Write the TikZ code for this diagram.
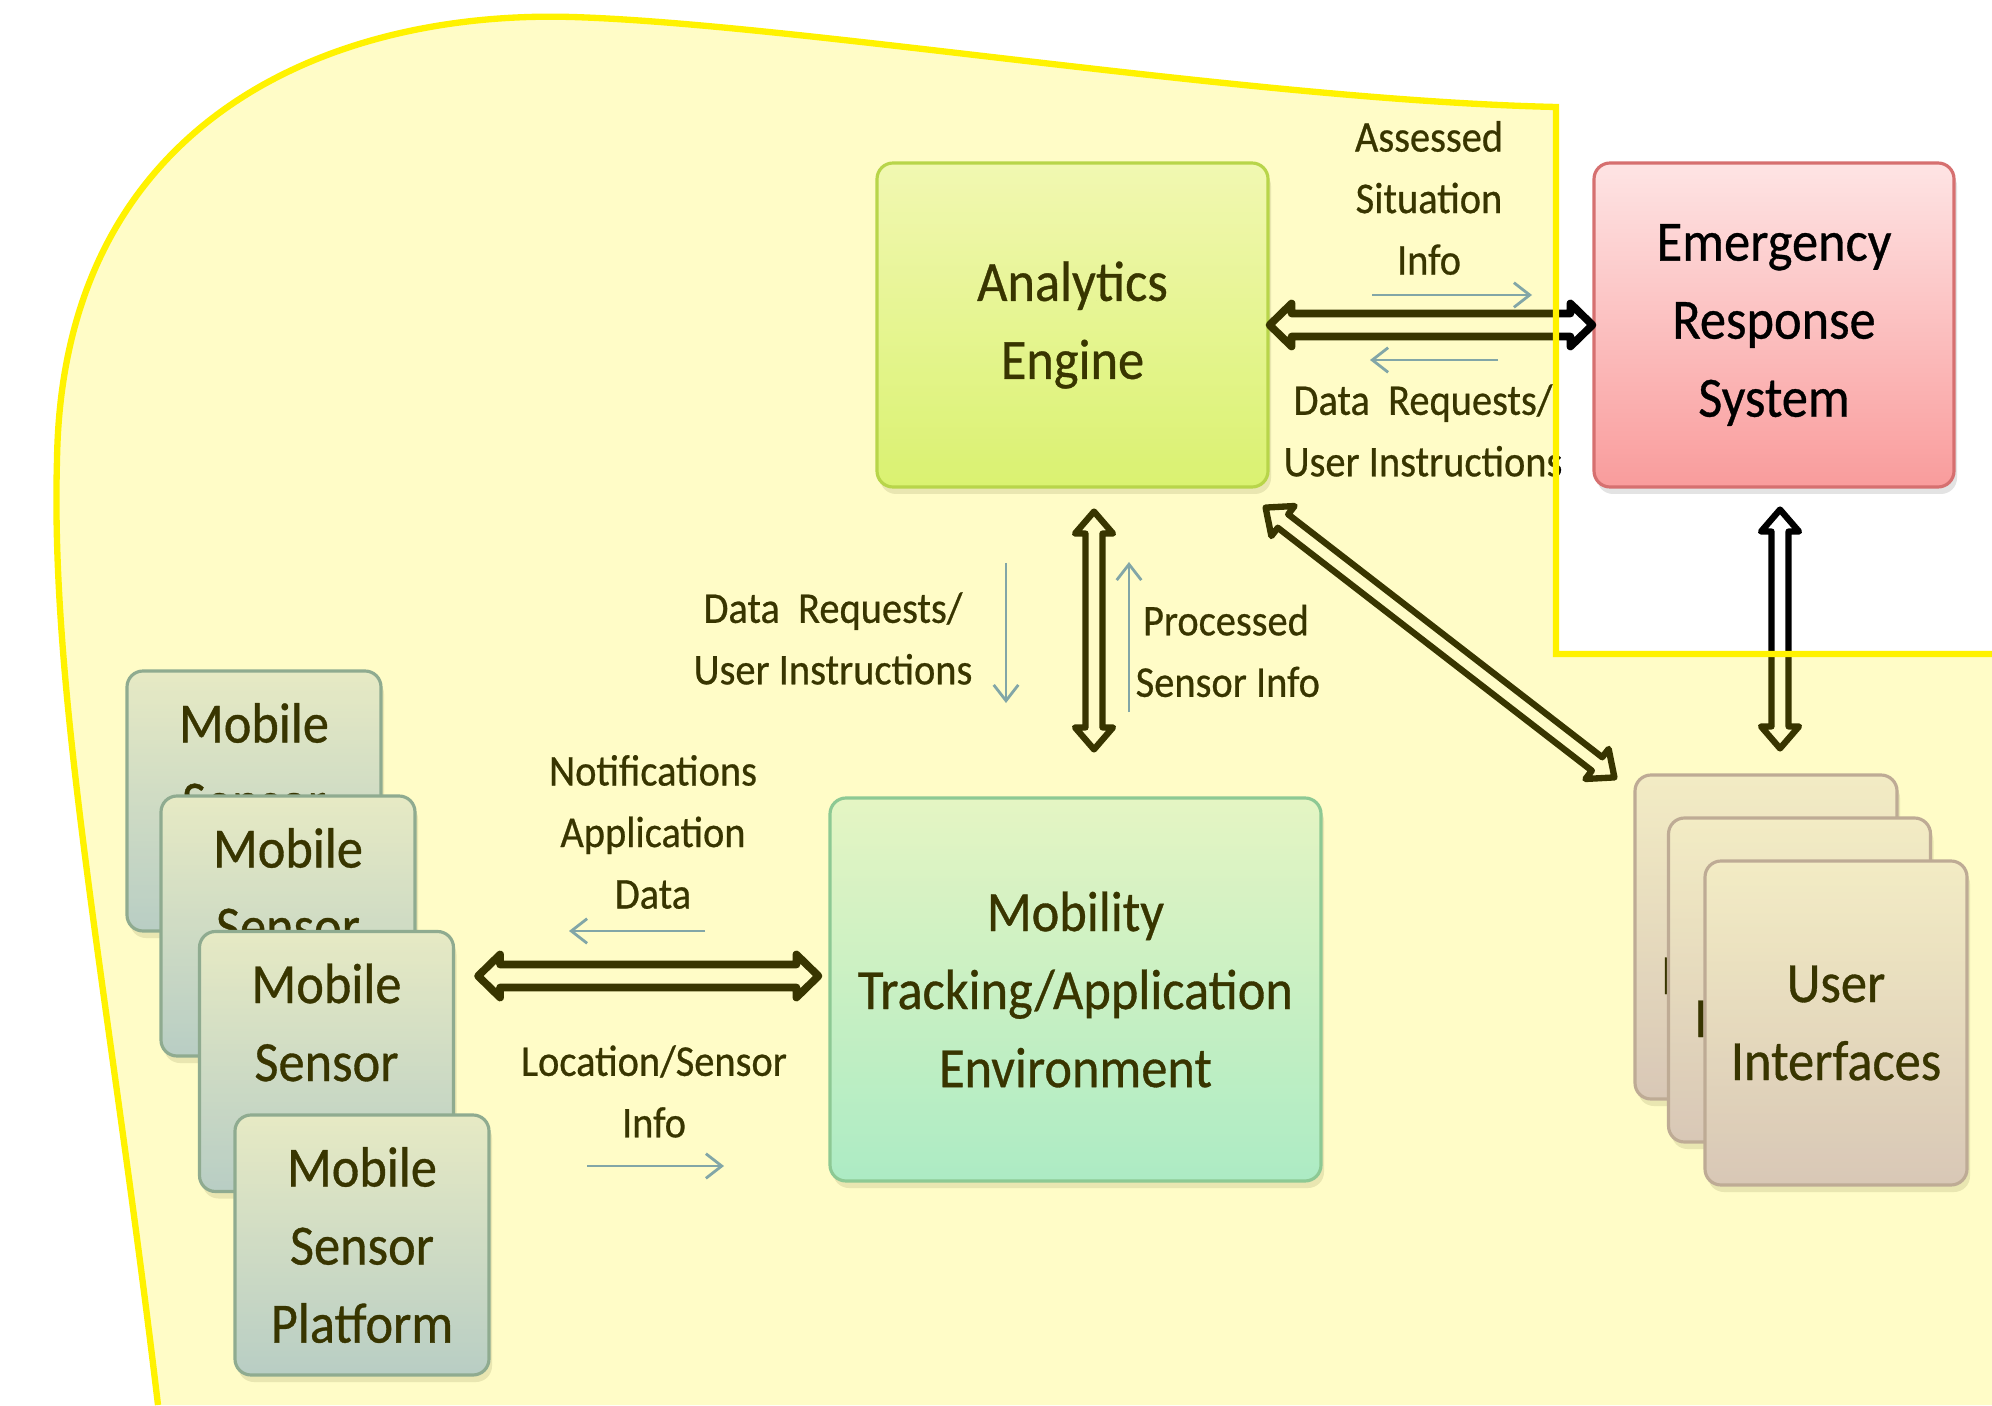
\documentclass[tikz,border=0pt]{standalone}
\usepackage{fontspec}
\setmainfont{Carlito}[FakeStretch=0.92,FakeBold=0.6]
\usetikzlibrary{arrows.meta,positioning,calc,shadows}

\definecolor{aetop}{RGB}{238,250,228}
\definecolor{aebot}{RGB}{208,242,145}
\definecolor{aeline}{RGB}{165,205,95}
\definecolor{erstop}{RGB}{254,228,228}
\definecolor{ersbot}{RGB}{249,156,156}
\definecolor{ersline}{RGB}{214,112,112}
\definecolor{mtetop}{RGB}{222,246,250}
\definecolor{mtebot}{RGB}{150,234,252}
\definecolor{mteline}{RGB}{110,190,190}
\definecolor{mstop}{RGB}{224,232,252}
\definecolor{msbot}{RGB}{165,196,252}
\definecolor{msline}{RGB}{112,152,185}
\definecolor{uitop}{RGB}{240,235,252}
\definecolor{uibot}{RGB}{206,188,234}
\definecolor{uiline}{RGB}{172,152,192}
\definecolor{flowblue}{RGB}{95,145,215}

\newcommand\boxfont{\fontsize{16.2}{22.2}\selectfont}
\newcommand\lblfont{\fontsize{12.5}{17.5}\selectfont}
% outline of the shaded zone
\newcommand\zoneedge{(1.58,0) .. controls (1.10,4.05) and (0.50,7.05) .. (0.57,9.45)
  .. controls (0.62,12.85) and (3.30,13.95) .. (5.72,13.88)
  .. controls (8.00,13.81) and (12.50,13.05) .. (15.56,12.98)
  -- (15.56,7.51) -- (19.92,7.51)}

\tikzset{bar shaft/.store in=\barshaft,bar head/.store in=\barhead,
  bar shaft=0.115cm,bar head=0.215cm}

\begin{document}
\begin{tikzpicture}[>=Latex,
 box/.style={rounded corners=1.6mm,line width=0.9pt,align=center,font=\boxfont,inner sep=1mm,
   drop shadow={shadow xshift=0.3mm,shadow yshift=-0.7mm,opacity=0.22}},
 aebox/.style={box,draw=aeline,top color=aetop,bottom color=aebot},
 ersbox/.style={box,draw=ersline,top color=erstop,bottom color=ersbot},
 mtebox/.style={box,draw=mteline,top color=mtetop,bottom color=mtebot},
 msbox/.style={box,draw=msline,top color=mstop,bottom color=msbot,minimum width=2.54cm,minimum height=2.6cm},
 uibox/.style={box,draw=uiline,top color=uitop,bottom color=uibot,minimum width=2.62cm,minimum height=3.24cm},
 lbl/.style={align=center,font=\lblfont,inner sep=0pt},
 blockarr/.style={draw=black,line width=2.2pt,line join=round,
   to path={let \p1=(\tikztostart),\p2=(\tikztotarget),\n1={atan2(\y2-\y1,\x2-\x1)} in
     (\p1) -- ($(\p1)+(\n1:0.22cm)+(\n1+90:\barhead)$)
     -- ($(\p1)+(\n1:0.22cm)+(\n1+90:\barshaft)$)
     -- ($(\p2)+(\n1+180:0.22cm)+(\n1+90:\barshaft)$)
     -- ($(\p2)+(\n1+180:0.22cm)+(\n1+90:\barhead)$)
     -- (\p2)
     -- ($(\p2)+(\n1+180:0.22cm)+(\n1-90:\barhead)$)
     -- ($(\p2)+(\n1+180:0.22cm)+(\n1-90:\barshaft)$)
     -- ($(\p1)+(\n1:0.22cm)+(\n1-90:\barshaft)$)
     -- ($(\p1)+(\n1:0.22cm)+(\n1-90:\barhead)$)
     -- cycle}},
 slim/.style={bar shaft=0.085cm,bar head=0.19cm,line width=1.8pt},
 flow/.style={draw=flowblue,line width=0.8pt,-{Straight Barb[length=4.5pt,width=7pt]}}]
\fill[white] (0,0) rectangle (19.92,14.05);
\useasboundingbox (0,0) rectangle (19.92,14.05);

% main blocks
\node[aebox,minimum width=3.91cm,minimum height=3.24cm] (ae) at (10.725,10.80) {Analytics\\Engine};
\node[ersbox,minimum width=3.60cm,minimum height=3.24cm] (ers) at (17.74,10.80) {Emergency\\Response\\System};
\node[mtebox,minimum width=4.91cm,minimum height=3.83cm] (mte) at (10.755,4.155) {Mobility\\Tracking/Application\\Environment};

% sensor stack
\node[msbox] (ms1) at (2.54,6.04) {Mobile\\Sensor\\Platform};
\node[msbox] (ms2) at (2.88,4.79) {Mobile\\Sensor\\Platform};
\node[msbox] (ms3) at (3.265,3.435) {Mobile\\Sensor\\Platform};
\node[msbox] (ms4) at (3.62,1.60) {Mobile\\Sensor\\Platform};

% interface stack
\node[uibox] (ui1) at (17.66,4.68) {User\\Interfaces};
\node[uibox] (ui2) at (17.995,4.25) {User\\Interfaces};
\node[uibox] (ui3) at (18.36,3.82) {User\\Interfaces};

% block arrows
\draw[blockarr] (ae.east) to (ers.west);
\draw[blockarr,slim] ($(ae.south)+(0.215,-0.23)$) to ($(mte.north)+(0.185,0.47)$);
\draw[blockarr,slim] ($(ae.south east)+(-0.04,-0.19)$) to ($(ui1.north west)+(-0.19,-0.04)$);
\draw[blockarr,slim] ($(ers.south)+(0.06,-0.21)$) to ($(ui1.north)+(0.14,0.25)$);
\draw[blockarr] ($(ms3.east)+(0.23,0.855)$) to ($(mte.west)+(-0.10,0.135)$);

% labels
\node[lbl] (assessed) at (14.29,12.07) {Assessed\\Situation\\Info};
\node[lbl] (reqright) at (14.23,9.745) {Data\ \ Requests/\\User Instructions};
\node[lbl] (reqleft) at (8.33,7.665) {Data\ \ Requests/\\User Instructions};
\node[lbl,align=left,anchor=west] (processed) at (11.35,7.54) {\,Processed\\Sensor Info};
\node[lbl] (notif) at (6.53,5.73) {Notifications\\Application\\Data};
\node[lbl] (location) at (6.54,3.135) {Location/Sensor\\Info};

% direction hints
\coordinate (h1) at (13.72,11.10);
\coordinate (h2) at (14.98,10.45);
\coordinate (h3) at (10.06,8.42);
\coordinate (h4) at (11.29,6.93);
\coordinate (h5) at (7.05,4.74);
\coordinate (h6) at (5.87,2.39);
\draw[flow] (h1) -- ++(1.60,0);
\draw[flow] (h2) -- ++(-1.28,0);
\draw[flow] (h3) -- ++(0,-1.40);
\draw[flow] (h4) -- ++(0,1.50);
\draw[flow] (h5) -- ++(-1.36,0);
\draw[flow] (h6) -- ++(1.37,0);

% shaded zone on top
\fill[yellow,fill opacity=0.22] \zoneedge -- (19.92,0) -- cycle;
\draw[yellow,line width=1.8pt] \zoneedge;
\end{tikzpicture}
\end{document}
